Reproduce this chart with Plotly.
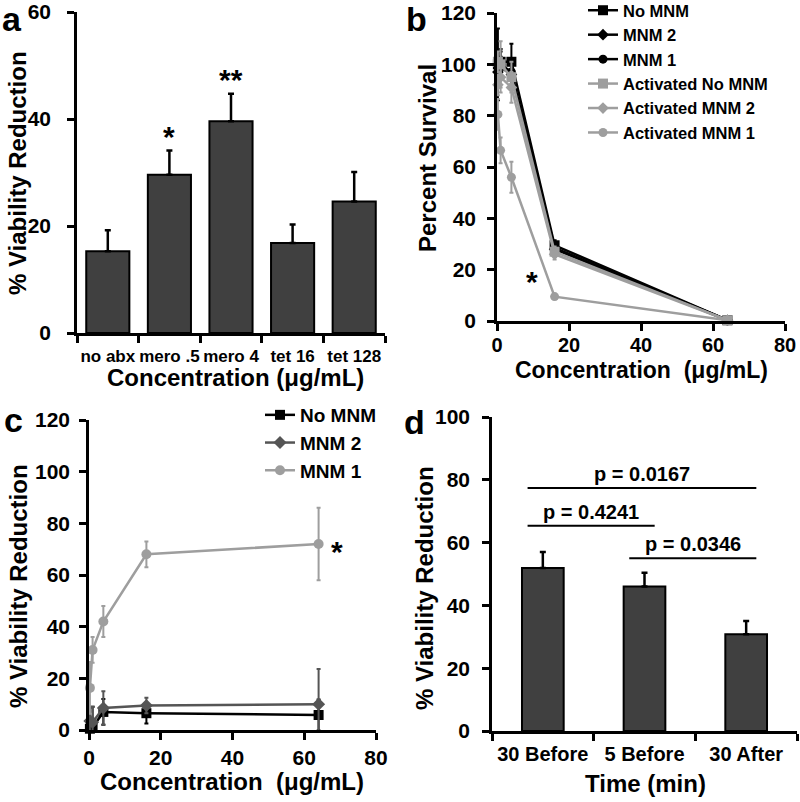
import plotly.graph_objects as go

# ---------------- data ----------------
# Panel a
a_categories = ["no abx", "mero .5", "mero 4", "tet 16", "tet 128"]
a_values = [15.3, 29.6, 39.6, 16.8, 24.6]
a_errors = [3.9, 4.5, 5.1, 3.5, 5.5]
a_stars = ["", "*", "**", "", ""]

# Panel b (percent survival)
b_conc = [0.25, 1, 4, 16, 64]
b_no_mnm = [100, 101, 101, 29.5, 0.3]
b_no_mnm_err = [14, 5, 7, 2, 0.5]
b_mnm2 = [97, 99, 96, 28, 0.3]
b_mnm2_err = [5, 4, 4, 2, 0.5]
b_mnm1 = [99, 100, 97, 28.5, 0.3]
b_mnm1_err = [6, 5, 5, 2, 0.5]
b_act_no_mnm = [101, 100, 95, 27, 0.3]
b_act_no_mnm_err = [4, 9, 6, 2, 0.5]
b_act_mnm2 = [92, 95, 91, 26, 0.3]
b_act_mnm2_err = [4, 6, 6, 2, 0.5]
b_act_mnm1 = [80.5, 66.5, 56, 9.5, 0.3]
b_act_mnm1_err = [6, 5, 6, 1, 0.5]
b_star = ("*", 9.7, 18)

# Panel c (% viability reduction)
c_conc = [0.25, 1, 4, 16, 64]
c_no_mnm = [0.5, 1, 7, 6.5, 5.8]
c_no_mnm_err = [3, 8, 5, 4, 6]
c_mnm2 = [3.5, 3, 8.5, 9.5, 10]
c_mnm2_err = [5, 6, 6.5, 3, 13.6]
c_mnm1 = [16.3, 31, 42, 68, 72]
c_mnm1_err = [10, 5, 6, 5, 14]
c_star = ("*", 69, 72)

# Panel d
d_categories = ["30 Before", "5 Before", "30 After"]
d_values = [51.9, 46.0, 30.8]
d_errors = [5.1, 4.4, 4.2]
d_brackets = [(0, 2, 77.4, "p = 0.0167"), (0, 1, 65.4, "p = 0.4241"), (1, 2, 55.0, "p = 0.0346")]

# ---------------- styling ----------------
W, H = 800, 802
FONT = "Liberation Sans, Arial, sans-serif"
BLACK = "#000000"
DGRAY = "#555555"
LGRAY = "#9e9e9e"
BARC = "#404040"


def px_x(p):
    return p / W


def px_y(p):
    return 1 - p / H


def fnt(size, color=BLACK):
    return dict(family=FONT, size=size, color=color, weight="bold")


fig = go.Figure()

# ---- panel a ----
fig.add_trace(go.Bar(
    x=a_categories, y=a_values, width=0.7,
    marker=dict(color=BARC, line=dict(color=BLACK, width=2)),
    error_y=dict(type="data", array=a_errors, arrayminus=[0] * len(a_errors),
                 color=BLACK, thickness=2.5, width=3),
    xaxis="x", yaxis="y", showlegend=False))

# ---- panel b ----
b_specs = [
    ("No MNM", b_no_mnm, b_no_mnm_err, BLACK, "square", 10),
    ("MNM 2", b_mnm2, b_mnm2_err, BLACK, "diamond", 9),
    ("MNM 1", b_mnm1, b_mnm1_err, BLACK, "circle", 9),
    ("Activated No MNM", b_act_no_mnm, b_act_no_mnm_err, LGRAY, "square", 10),
    ("Activated MNM 2", b_act_mnm2, b_act_mnm2_err, LGRAY, "diamond", 9),
    ("Activated MNM 1", b_act_mnm1, b_act_mnm1_err, LGRAY, "circle", 9),
]
for name, ys, es, col, sym, sz in b_specs:
    fig.add_trace(go.Scatter(
        x=b_conc, y=ys, name=name, mode="lines+markers",
        line=dict(color=col, width=2.5),
        marker=dict(color=col, symbol=sym, size=sz),
        error_y=dict(type="data", array=es, color=col, thickness=2, width=2),
        xaxis="x2", yaxis="y2", legend="legend", cliponaxis=False))

# ---- panel c ----
c_specs = [
    ("No MNM", c_no_mnm, c_no_mnm_err, BLACK, "square", 10),
    ("MNM 2", c_mnm2, c_mnm2_err, DGRAY, "diamond", 10),
    ("MNM 1", c_mnm1, c_mnm1_err, LGRAY, "circle", 10),
]
for name, ys, es, col, sym, sz in c_specs:
    fig.add_trace(go.Scatter(
        x=c_conc, y=ys, name=name, mode="lines+markers",
        line=dict(color=col, width=2.5),
        marker=dict(color=col, symbol=sym, size=sz),
        error_y=dict(type="data", array=es, color=col, thickness=2, width=2),
        xaxis="x3", yaxis="y3", legend="legend2", cliponaxis=False))

# ---- panel d ----
fig.add_trace(go.Bar(
    x=d_categories, y=d_values, width=0.41,
    marker=dict(color=BARC, line=dict(color=BLACK, width=2)),
    error_y=dict(type="data", array=d_errors, arrayminus=[0] * len(d_errors),
                 color=BLACK, thickness=2.5, width=3),
    xaxis="x4", yaxis="y4", showlegend=False))


def axis(domain, anchor, rng=None, dtick=None, size=21, standoff=0, **kw):
    d = dict(domain=domain, anchor=anchor, showline=True, linecolor=BLACK,
             linewidth=2.5, ticks="outside", ticklen=7, tickwidth=2.5,
             tickcolor=BLACK, showgrid=False, zeroline=False, tickangle=0,
             tickfont=fnt(size), ticklabelstandoff=standoff, fixedrange=True,
             automargin=False)
    if rng is not None:
        d["range"] = rng
    if dtick is not None:
        d["dtick"] = dtick
    d.update(kw)
    return d


annotations = []


def text(s, x, y, size, angle=0, xanchor="center", yanchor="middle", xref="paper", yref="paper", yshift=0):
    annotations.append(dict(text=s, x=x, y=y, xref=xref, yref=yref, showarrow=False,
                            font=fnt(size), textangle=angle, xanchor=xanchor,
                            yanchor=yanchor, yshift=yshift))


# panel letters
text("a", px_x(0), px_y(19), 34, xanchor="left")
text("b", px_x(404), px_y(19), 34, xanchor="left")
text("c", px_x(2), px_y(420), 34, xanchor="left")
text("d", px_x(402), px_y(422), 34, xanchor="left")

# axis titles
text("% Viability Reduction", px_x(18), px_y(173), 24, angle=-90)
text("Concentration (μg/mL)", px_x(235), px_y(377), 24)
text("Percent Survival", px_x(427), px_y(158), 24, angle=-90)
text("Concentration  (μg/mL)", px_x(641), px_y(370), 23)
text("% Viability Reduction", px_x(18), px_y(586), 24, angle=-90)
text("Concentration  (μg/mL)", px_x(232), px_y(781), 24)
text("% Viability Reduction", px_x(424), px_y(588), 24, angle=-90)
text("Time (min)", px_x(645), px_y(783), 24)

# stars
for cat, v, e, s in zip(a_categories, a_values, a_errors, a_stars):
    if s:
        text(s, cat, v + e, 30, xref="x", yref="y", yanchor="bottom", yshift=-4)
text(b_star[0], b_star[1], b_star[2], 30, xref="x2", yref="y2", yshift=-7)
text(c_star[0], c_star[1], c_star[2], 30, xref="x3", yref="y3", yshift=-7)

# brackets (panel d)
shapes = []
for i0, i1, yv, lab in d_brackets:
    x0, x1 = i0 - 0.15, i1 + 0.1
    shapes.append(dict(type="line", xref="x4", yref="y4", x0=x0, x1=x1, y0=yv, y1=yv,
                       line=dict(color=BLACK, width=2)))
    text(lab, (x0 + x1) / 2, yv, 20, xref="x4", yref="y4", yanchor="bottom", yshift=1)

fig.update_layout(
    width=W, height=H, margin=dict(l=0, r=0, t=0, b=0, autoexpand=False),
    paper_bgcolor="white", plot_bgcolor="white",
    font=dict(family=FONT, color=BLACK, weight="bold"),
    bargap=0.3,
    xaxis=axis([px_x(77), px_x(385)], "y", rng=[-0.5, 4.5], size=17, standoff=6,
               type="category", tickson="boundaries"),
    yaxis=axis([px_y(333), px_y(12)], "x", rng=[0, 60], dtick=20, standoff=12),
    xaxis2=axis([px_x(497), px_x(785)], "y2", rng=[0, 80], dtick=20, size=20, standoff=-3),
    yaxis2=axis([px_y(321), px_y(13)], "x2", rng=[0, 120], dtick=20, standoff=7),
    xaxis3=axis([px_x(89), px_x(376)], "y3", rng=[0, 80], dtick=20),
    yaxis3=axis([px_y(730), px_y(420)], "x3", rng=[0, 120], dtick=20, standoff=5),
    xaxis4=axis([px_x(492), px_x(797)], "y4", rng=[-0.5, 2.5], type="category",
                tickson="boundaries", size=20, standoff=3),
    yaxis4=axis([px_y(731), px_y(417)], "x4", rng=[0, 100], dtick=20, standoff=8),
    legend=dict(x=px_x(583), y=px_y(-7), xanchor="left", yanchor="top",
                font=fnt(16.5), bgcolor="rgba(0,0,0,0)", itemwidth=30,
                tracegroupgap=0),
    legend2=dict(x=px_x(260), y=px_y(396), xanchor="left", yanchor="top",
                 font=fnt(19), bgcolor="rgba(0,0,0,0)", itemwidth=30,
                 tracegroupgap=0),
    annotations=annotations,
    shapes=shapes,
)

fig.write_html("out.html", config={"displayModeBar": False},
               post_script="document.body.style.margin='0px';")
